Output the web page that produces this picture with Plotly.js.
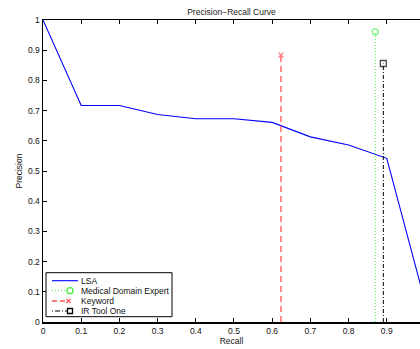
<!DOCTYPE html>
<html>
<head>
<meta charset="utf-8">
<script src="https://cdn.plot.ly/plotly-3.0.1.min.js"></script>
<style>html,body{margin:0;padding:0;background:#fff;}#chart{width:420px;height:349px;}</style>
</head>
<body>
<div id="chart"></div>
<script>
const lsaRecall = [0, 0.1, 0.2, 0.3, 0.4, 0.5, 0.6, 0.7, 0.8, 0.9, 1.0];
const lsaPrecision = [1.0, 0.717, 0.717, 0.687, 0.673, 0.673, 0.661, 0.613, 0.586, 0.542, 0.068];
const expertRecall = [0.87, 0.87];
const expertPrecision = [0, 0.961];
const keywordRecall = [0.623, 0.623];
const keywordPrecision = [0, 0.884];
const irToolRecall = [0.891, 0.891];
const irToolPrecision = [0, 0.856];
const seriesNames = ['LSA', 'Medical Domain Expert', 'Keyword', 'IR Tool One'];
const xTicks = [0, 0.1, 0.2, 0.3, 0.4, 0.5, 0.6, 0.7, 0.8, 0.9, 1];
const yTicks = [0, 0.1, 0.2, 0.3, 0.4, 0.5, 0.6, 0.7, 0.8, 0.9, 1];

const FS = 8.5;
const font = {family: 'Liberation Sans, Arial, sans-serif', size: FS, color: '#111'};
const colors = {lsa: '#0000ff', expert: '#44ee44', keyword: '#ff5555', ir: '#000000'};

const traces = [
  {x: lsaRecall, y: lsaPrecision, name: seriesNames[0], mode: 'lines',
   line: {color: colors.lsa, width: 1.1}},
  {x: expertRecall, y: expertPrecision, name: seriesNames[1], mode: 'lines+markers',
   line: {color: colors.expert, width: 1, dash: '1px,2px'},
   marker: {symbol: 'circle-open', size: [0, 6], color: colors.expert, line: {width: 1.3, color: colors.expert}}},
  {x: keywordRecall, y: keywordPrecision, name: seriesNames[2], mode: 'lines+markers',
   line: {color: colors.keyword, width: 1.3, dash: '6px,4px'},
   marker: {symbol: 'x-thin-open', size: [0, 5], color: colors.keyword, line: {width: 1.3, color: colors.keyword}}},
  {x: irToolRecall, y: irToolPrecision, name: seriesNames[3], mode: 'lines+markers',
   line: {color: colors.ir, width: 1, dash: '4px,2px,1px,2px'},
   marker: {symbol: 'square-open', size: [0, 6], color: colors.ir, line: {width: 1.3, color: colors.ir}}}
];

// Legend (MATLAB style, compact) built from shapes/annotations in paper coords
const L = 43, R = 420, T = 20, B = 322;
const px = v => (v - L) / (R - L);
const py = v => (B - v) / (B - T);
const legendRows = [280.7, 290.7, 301, 311];
const shapes = [
  {type: 'rect', xref: 'paper', yref: 'paper', x0: px(46), x1: px(172), y0: py(316.7), y1: py(272.7),
   line: {color: '#000', width: 1}, fillcolor: '#fff', layer: 'above'},
  {type: 'line', xref: 'paper', yref: 'paper', x0: px(52), x1: px(78), y0: py(legendRows[0]), y1: py(legendRows[0]),
   line: {color: colors.lsa, width: 1.1}, layer: 'above'},
  {type: 'line', xref: 'paper', yref: 'paper', x0: px(52), x1: px(67), y0: py(legendRows[1]), y1: py(legendRows[1]),
   line: {color: colors.expert, width: 1, dash: '1px,2px'}, layer: 'above'},
  {type: 'circle', xref: 'paper', yref: 'paper', x0: px(67), x1: px(73), y0: py(legendRows[1] + 3), y1: py(legendRows[1] - 3),
   line: {color: colors.expert, width: 1.3}, layer: 'above'},
  {type: 'line', xref: 'paper', yref: 'paper', x0: px(52), x1: px(66), y0: py(legendRows[2]), y1: py(legendRows[2]),
   line: {color: colors.keyword, width: 1.3, dash: '5px,3px'}, layer: 'above'},
  {type: 'line', xref: 'paper', yref: 'paper', x0: px(66.5), x1: px(70.5), y0: py(legendRows[2] + 2), y1: py(legendRows[2] - 2),
   line: {color: colors.keyword, width: 1.2}, layer: 'above'},
  {type: 'line', xref: 'paper', yref: 'paper', x0: px(66.5), x1: px(70.5), y0: py(legendRows[2] - 2), y1: py(legendRows[2] + 2),
   line: {color: colors.keyword, width: 1.2}, layer: 'above'},
  {type: 'line', xref: 'paper', yref: 'paper', x0: px(52), x1: px(67), y0: py(legendRows[3]), y1: py(legendRows[3]),
   line: {color: colors.ir, width: 1, dash: '1px,2px,5px,2px'}, layer: 'above'},
  {type: 'rect', xref: 'paper', yref: 'paper', x0: px(67.5), x1: px(72.5), y0: py(legendRows[3] + 2.5), y1: py(legendRows[3] - 2.5),
   line: {color: colors.ir, width: 1.3}, layer: 'above'}
];
const annotations = seriesNames.map((n, i) => ({
  text: n, xref: 'paper', yref: 'paper', x: px(79.5), y: py(legendRows[i]),
  xanchor: 'left', yanchor: 'middle', showarrow: false, font: font, borderpad: 0
}));

const layout = {
  width: 420, height: 349,
  margin: {l: L, r: 0, t: T, b: 349 - B, pad: 0},
  paper_bgcolor: '#fff', plot_bgcolor: '#fff',
  font: font,
  showlegend: false,
  title: {text: 'Precision\u2212Recall Curve', font: {family: font.family, size: FS, color: '#222'},
          x: 0.5, xref: 'paper', xanchor: 'center', y: 1, yref: 'paper', yanchor: 'bottom', pad: {b: 5}},
  xaxis: {
    range: [0, 0.987], tickvals: xTicks, ticktext: xTicks.map(String),
    showgrid: false, zeroline: false, showline: true, linecolor: '#000', linewidth: 1.5,
    mirror: 'ticks', ticks: 'inside', ticklen: 4, tickwidth: 1, tickcolor: '#000',
    tickfont: font, fixedrange: true,
    title: {text: 'Recall', font: font, standoff: 2}
  },
  yaxis: {
    range: [0, 1], tickvals: yTicks, ticktext: yTicks.map(String),
    showgrid: false, zeroline: false, showline: true, linecolor: '#000', linewidth: 1.5,
    mirror: false, ticks: 'inside', ticklen: 4, tickwidth: 1, tickcolor: '#000',
    tickfont: font, fixedrange: true,
    title: {text: 'Precision', font: font, standoff: 4}
  },
  shapes: shapes,
  annotations: annotations
};

Plotly.newPlot('chart', traces, layout, {displayModeBar: false, staticPlot: true});
</script>
</body>
</html>
